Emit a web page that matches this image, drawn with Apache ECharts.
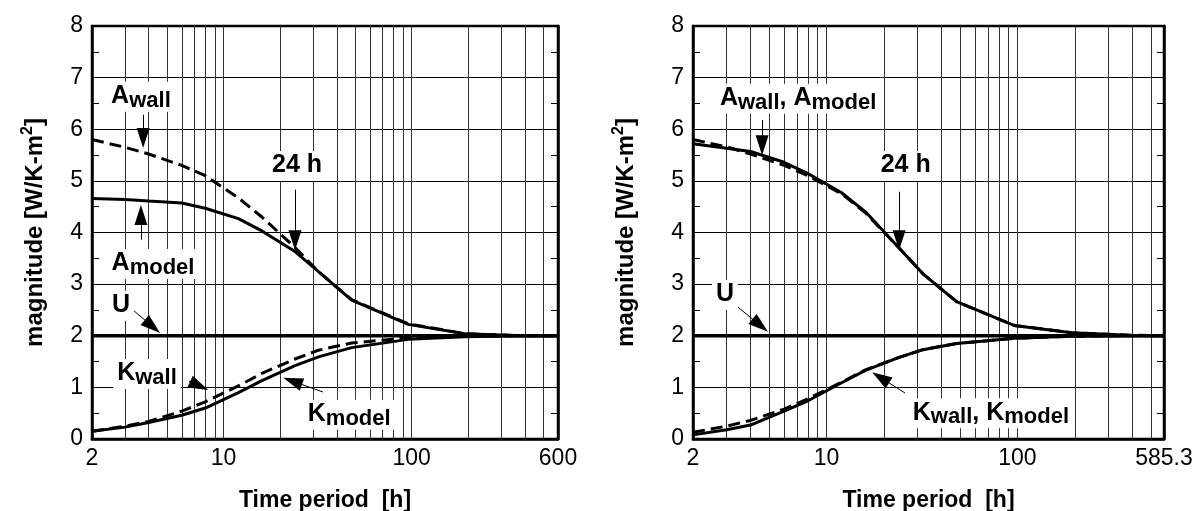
<!DOCTYPE html>
<html>
<head>
<meta charset="utf-8">
<script src="https://cdn.jsdelivr.net/npm/echarts@6/dist/echarts.min.js"></script>
<style>
  html, body { margin: 0; padding: 0; background: #fff; }
  #chart { width: 1195px; height: 511px; }
</style>
</head>
<body>
<div id="chart"></div>
<script>
// time periods [h]
var periodsL = [2, 3, 4, 6, 8, 12, 16, 24, 32, 48, 96, 192, 384, 600];
var periodsR = [2, 3, 4, 6, 8, 12, 16, 24, 32, 48, 96, 192, 384, 585.3];

// left panel
var aWallL  = [5.80, 5.65, 5.52, 5.30, 5.10, 4.67, 4.30, 3.71, 3.24, 2.70, 2.23, 2.04, 2.00, 2.00];
var aModelL = [4.66, 4.64, 4.61, 4.57, 4.47, 4.27, 4.03, 3.63, 3.24, 2.69, 2.22, 2.04, 2.00, 2.00];
var kWallL  = [0.15, 0.25, 0.34, 0.54, 0.72, 1.03, 1.27, 1.55, 1.72, 1.86, 1.96, 1.99, 2.00, 2.00];
var kModelL = [0.15, 0.23, 0.32, 0.46, 0.60, 0.90, 1.13, 1.42, 1.59, 1.77, 1.93, 1.98, 2.00, 2.00];

// right panel
var aWallR  = [5.80, 5.66, 5.52, 5.30, 5.10, 4.75, 4.38, 3.70, 3.20, 2.66, 2.20, 2.06, 2.01, 2.00];
var aModelR = [5.72, 5.63, 5.57, 5.36, 5.14, 4.77, 4.40, 3.70, 3.20, 2.66, 2.20, 2.06, 2.01, 2.00];
var kWallR  = [0.13, 0.25, 0.36, 0.58, 0.78, 1.10, 1.34, 1.58, 1.73, 1.85, 1.95, 1.99, 2.00, 2.00];
var kModelR = [0.08, 0.18, 0.27, 0.54, 0.74, 1.09, 1.33, 1.58, 1.73, 1.85, 1.95, 1.99, 2.00, 2.00];

var uValue = 2;

// vertical grid lines of the log axis
var gridPeriods = [3, 4, 5, 6, 7, 8, 9, 10, 20, 30, 40, 50, 60, 70, 80, 90, 100, 200, 300, 400, 500];

// annotations: [text, period, magnitude]
var labelsL = [
  ['{m|A}{s|wall}', 3.64, 6.63],
  ['{m|A}{s|model}', 4.22, 3.39],
  ['{m|24 h}', 24.6, 5.29],
  ['{m|U}', 2.85, 2.58],
  ['{m|K}{s|wall}', 3.92, 1.26],
  ['{m|K}{s|model}', 46.6, 0.47]
];
var labelsR = [
  ['{m|A}{s|wall}{m|, A}{s|model}', 7.1, 6.59],
  ['{m|24 h}', 26, 5.29],
  ['{m|U}', 2.94, 2.79],
  ['{m|K}{s|wall}{m|, K}{s|model}', 72.6, 0.50]
];
// arrows: [fromPeriod, fromMag, toPeriod, toMag]
var arrowsL = [
  [3.74, 6.28, 3.74, 5.83],
  [3.64, 3.86, 3.64, 4.34],
  [24, 4.83, 24, 3.85],
  [3.3, 2.5, 4.19, 2.18],
  [6.56, 1.12, 7.42, 1.03],
  [33.8, 0.91, 23.3, 1.12]
];
var arrowsR = [
  [4.6, 6.18, 4.6, 5.69],
  [24, 4.79, 24, 3.85],
  [3.32, 2.6, 4.5, 2.2],
  [25.8, 0.89, 19.2, 1.19]
];

var FONT = "'Liberation Sans', Arial, sans-serif";

function zip(xs, ys) {
  return xs.map(function (x, i) { return [x, ys[i]]; });
}

function xAxisCfg(idx, max) {
  return {
    type: 'log',
    logBase: 10,
    gridIndex: idx,
    min: 2,
    max: max,
    axisLine: { lineStyle: { color: '#000', width: 2.5 } },
    axisTick: { show: false },
    splitLine: { show: false },
    axisLabel: {
      color: '#000', fontSize: 23, fontFamily: FONT, margin: 8,
      formatter: function (v) { return String(Math.round(v * 10) / 10); }
    },
    name: 'Time period  [h]',
    nameLocation: 'middle',
    nameGap: 50,
    nameTextStyle: { color: '#000', fontSize: 23, fontWeight: 'bold', fontFamily: FONT }
  };
}

function yAxisCfg(idx, side, gap) {
  var left = side === 'left';
  return {
    type: 'value',
    gridIndex: idx,
    position: side,
    min: 0,
    max: 8,
    interval: 1,
    axisLine: { show: true, lineStyle: { color: '#000', width: 2.5 } },
    axisTick: { show: false, inside: true },
    minorTick: { show: true, splitNumber: 2, length: 7, lineStyle: { color: '#000', width: 1 } },
    splitLine: { show: left, lineStyle: { color: '#000', width: 1 } },
    axisLabel: { show: left, color: '#000', fontSize: 23, fontFamily: FONT, margin: 9 },
    name: left ? 'magnitude [W/K-m{sup|2}]' : '',
    nameLocation: 'middle',
    nameGap: gap,
    nameRotate: 90,
    nameTextStyle: {
      color: '#000', fontSize: 24, fontWeight: 'bold', fontFamily: FONT, lineHeight: 30,
      rich: { sup: { fontSize: 16, fontWeight: 'bold', fontFamily: FONT, verticalAlign: 'top', lineHeight: 14 } }
    }
  };
}

function curve(name, xi, yi, xs, ys, dashed) {
  return {
    name: name,
    type: 'line',
    xAxisIndex: xi,
    yAxisIndex: yi,
    data: zip(xs, ys),
    showSymbol: false,
    symbol: 'none',
    z: 3,
    lineStyle: { color: '#000', width: 3, type: dashed ? [12, 6] : 'solid' },
    silent: true
  };
}

function gridLines(xi, yi, xs) {
  return {
    name: 'U',
    type: 'line',
    xAxisIndex: xi,
    yAxisIndex: yi,
    data: xs.map(function (x) { return [x, uValue]; }),
    showSymbol: false,
    symbol: 'none',
    z: 3,
    lineStyle: { color: '#000', width: 3.5 },
    silent: true,
    markLine: {
      silent: true,
      z: 1,
      symbol: ['none', 'none'],
      label: { show: false },
      lineStyle: { color: '#333', width: 1, type: 'solid' },
      data: gridPeriods.map(function (p) { return { xAxis: p }; })
    }
  };
}

function notes(xi, yi, labels, arrows) {
  return {
    type: 'line',
    xAxisIndex: xi,
    yAxisIndex: yi,
    data: [],
    silent: true,
    markLine: {
      silent: true,
      z: 6,
      symbol: ['none', 'triangle'],
      symbolSize: 12,
      label: { show: false },
      itemStyle: { color: '#000' },
      lineStyle: { color: '#000', width: 1, type: 'solid' },
      data: arrows.map(function (a) {
        return [
          { coord: [a[0], a[1]], symbol: 'none' },
          { coord: [a[2], a[3]], symbol: 'triangle', symbolSize: [13, 20] }
        ];
      })
    },
    markPoint: {
      silent: true,
      z: 7,
      symbol: 'rect',
      symbolSize: 1,
      itemStyle: { color: 'rgba(0,0,0,0)' },
      data: labels.map(function (l) {
        return {
          coord: [l[1], l[2]],
          label: {
            show: true,
            position: 'inside',
            formatter: l[0],
            backgroundColor: '#fff',
            padding: [2, 4, 0, 4],
            rich: {
              m: { fontSize: 25, fontWeight: 'bold', fontFamily: FONT, color: '#000', lineHeight: 28, verticalAlign: 'top' },
              s: { fontSize: 22, fontWeight: 'bold', fontFamily: FONT, color: '#000', lineHeight: 22, verticalAlign: 'bottom', padding: [12, 0, 0, 0] }
            }
          }
        };
      })
    }
  };
}

var chart = echarts.init(document.getElementById('chart'));
chart.setOption({
  animation: false,
  backgroundColor: '#fff',
  grid: [
    { left: 92, top: 26, width: 466, height: 413, outerBoundsMode: 'none', show: true, borderColor: '#000', borderWidth: 2.5 },
    { left: 693, top: 26, width: 471, height: 413, outerBoundsMode: 'none', show: true, borderColor: '#000', borderWidth: 2.5 }
  ],
  xAxis: [xAxisCfg(0, 600), xAxisCfg(1, 585.3)],
  yAxis: [yAxisCfg(0, 'left', 42), yAxisCfg(0, 'right', 0), yAxisCfg(1, 'left', 52), yAxisCfg(1, 'right', 0)],
  series: [
    gridLines(0, 0, periodsL),
    curve('A wall', 0, 0, periodsL, aWallL, true),
    curve('A model', 0, 0, periodsL, aModelL, false),
    curve('K wall', 0, 0, periodsL, kWallL, true),
    curve('K model', 0, 0, periodsL, kModelL, false),
    notes(0, 0, labelsL, arrowsL),
    gridLines(1, 2, periodsR),
    curve('A wall', 1, 2, periodsR, aWallR, true),
    curve('A model', 1, 2, periodsR, aModelR, false),
    curve('K wall', 1, 2, periodsR, kWallR, true),
    curve('K model', 1, 2, periodsR, kModelR, false),
    notes(1, 2, labelsR, arrowsR)
  ]
});
</script>
</body>
</html>
